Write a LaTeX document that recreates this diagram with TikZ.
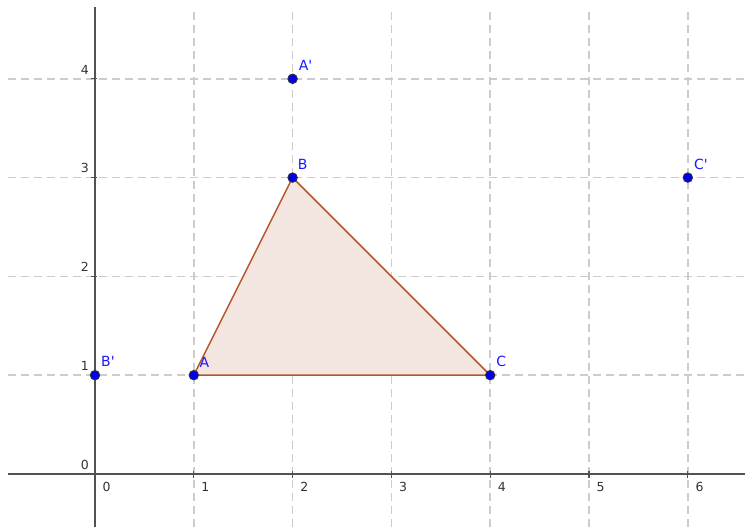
\documentclass[tikz,border=0pt]{standalone}
\usepackage{fontspec}
\setmainfont{DejaVu Sans}
\begin{document}
\begin{tikzpicture}[x=98.8pt,y=98.8pt,
  gridline/.style={draw=black!20, line width=1.5pt, dash pattern=on 8pt off 5pt},
  axisline/.style={draw=black!68, line width=1.6pt},
  tick/.style={draw=black!68, line width=1.3pt},
  pt/.style={circle, fill=blue!92!black, draw=black!80, line width=0.9pt, inner sep=0pt, minimum size=9.5pt},
  plabel/.style={text=blue!90!white, font=\fontsize{14}{14}\selectfont, inner sep=0pt},
  xlab/.style={font=\fontsize{12.5}{12.5}\selectfont, text=black!80, inner sep=0pt, anchor=north west},
  ylab/.style={font=\fontsize{12.5}{12.5}\selectfont, text=black!80, inner sep=0pt, anchor=south east},
  tri/.style={draw={rgb,255:red,178;green,88;blue,48}, line width=1.5pt, fill={rgb,255:red,243;green,229;blue,223}, line join=round}]
\useasboundingbox (-95pt,-53pt) rectangle (650pt,474pt);
% grid
\foreach \i in {1,...,6} \draw[gridline] (\i,-53pt) -- (\i,467pt);
\foreach \j in {1,...,4} \draw[gridline] (-87pt,\j) -- (650pt,\j);
% axes
\draw[axisline] (-87pt,0) -- (650pt,0);
\draw[axisline] (0,-53pt) -- (0,467pt);
\foreach \i in {1,...,6} \draw[tick] (\i,2.5pt) -- (\i,-4pt);
\foreach \j in {1,...,4} \draw[tick] (-4pt,\j) -- (2.5pt,\j);
% tick labels
\foreach \i in {0,...,6} \node[xlab] at ([shift={(7.5pt,-8pt)}]\i,0) {\i};
\foreach \j in {0,...,4} \node[ylab] at ([shift={(-6pt,4.5pt)}]0,\j) {\j};
% triangle
\coordinate (a) at (1,1);
\coordinate (b) at (2,3);
\coordinate (c) at (4,1);
\draw[tri] (a) -- (b) -- (c) -- cycle;
% points
\node[pt] (A) at (a) {};
\node[pt] (B) at (b) {};
\node[pt] (C) at (c) {};
\node[pt] (Ap) at (2,4) {};
\node[pt] (Bp) at (0,1) {};
\node[pt] (Cp) at (6,3) {};
\node[plabel, anchor=south west] (lA) at ([shift={(5.5pt,7pt)}]A.center) {A};
\node[plabel, anchor=south west] (lB) at ([shift={(5pt,8pt)}]B.center) {B};
\node[plabel, anchor=south west] (lC) at ([shift={(6pt,8pt)}]C.center) {C};
\node[plabel, anchor=south west] (lAp) at ([shift={(6pt,8pt)}]Ap.center) {A\textquotesingle};
\node[plabel, anchor=south west] (lBp) at ([shift={(6pt,8pt)}]Bp.center) {B\textquotesingle};
\node[plabel, anchor=south west] (lCp) at ([shift={(6pt,8pt)}]Cp.center) {C\textquotesingle};
\end{tikzpicture}
\end{document}
